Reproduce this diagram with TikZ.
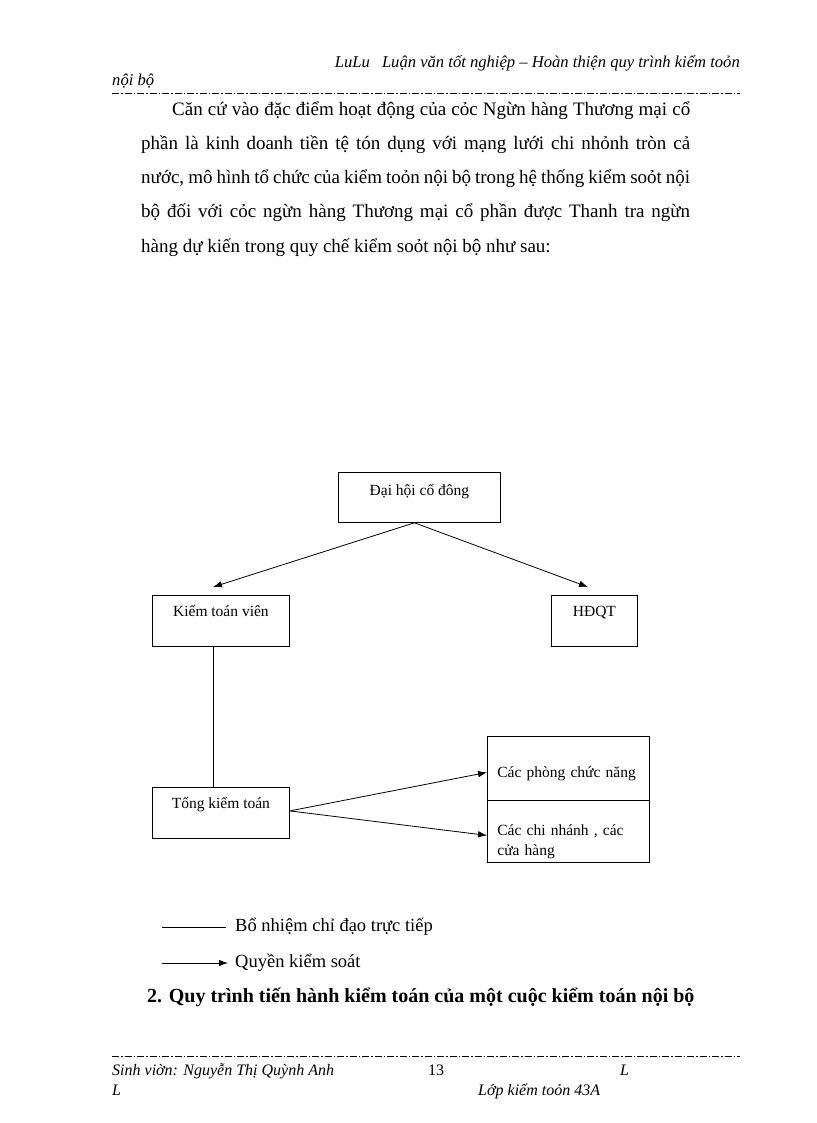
\documentclass[tikz,border=0pt]{standalone}
\usepackage{fontspec}
\setmainfont{Liberation Serif}
\usetikzlibrary{arrows.meta}

\begin{document}
\begin{tikzpicture}[x=1pt,y=-1pt,
    box/.style={draw,line width=0.8pt,inner sep=0pt,font=\fontsize{15.5}{20}\selectfont},
    pline/.style={anchor=base west,inner sep=0pt,font=\fontsize{19}{34}\selectfont},
    hdr/.style={anchor=base west,inner sep=0pt,font=\fontsize{16}{20}\selectfont\itshape},
    dashdot/.style={line width=0.7pt,dash pattern=on 7pt off 2pt on 1.5pt off 2pt},
    ctrl/.style={line width=0.8pt,-{Latex[length=9pt,width=6.5pt]}}]
  \useasboundingbox (0,0) rectangle (816,1123);
  % page header
  \node[hdr,anchor=base east,font=\fontsize{16.6}{20}\selectfont\itshape] (hd1) at (740,68) %
    {LuLu\hspace{12pt}Luận văn tốt nghiệp -- Hoàn thiện quy trình kiểm toỏn};
  \node[hdr,font=\fontsize{16.6}{20}\selectfont\itshape] (hd2) at (112,86) {nội bộ};
  \draw[dashdot] (112,93) -- (740,93);
  % paragraph
  \node[pline] (l1) at (172,116) %
    {\makebox[518pt][s]{Căn cứ vào đặc điểm hoạt động của cỏc Ngừn hàng Thương mại cổ}};
  \node[pline] (l2) at (141,150) %
    {\makebox[549pt][s]{phần là kinh doanh tiền tệ tón dụng với mạng lưới chi nhỏnh tròn cả}};
  \node[pline] (l3) at (141,184) %
    {\makebox[549pt][s]{nước, mô hình tổ chức của kiểm toỏn nội bộ trong hệ thống kiểm soỏt nội}};
  \node[pline] (l4) at (141,218) %
    {\makebox[549pt][s]{bộ đối với cỏc ngừn hàng Thương mại cổ phần được Thanh tra ngừn}};
  \node[pline] (l5) at (141,252) {hàng dự kiến trong quy chế kiểm soỏt nội bộ như sau:};
  % boxes
  \node[box,anchor=north west,minimum width=162pt,text height=23pt,text depth=27pt] %
    (dhcd) at (338,472) {Đại hội cổ đông};
  \node[box,anchor=north west,minimum width=137pt,text height=21pt,text depth=30pt] %
    (ktv) at (152,595) {Kiểm toán viên};
  \node[box,anchor=north west,minimum width=86pt,text height=21pt,text depth=30pt] %
    (hdqt) at (551,595) {HĐQT};
  \node[box,anchor=north west,minimum width=137pt,text height=21pt,text depth=30pt] %
    (tkt) at (152,787) {Tổng kiểm toán};
  \node[box,anchor=north west,text width=142pt,inner xsep=10pt,align=left,%
    text height=41pt,text depth=23pt] (cpcn) at (487,736) {Các phòng chức năng};
  \node[box,anchor=north west,text width=142pt,inner xsep=10pt,align=left,%
    text height=35pt,text depth=27pt] (cnch) at (487,800) {Các chi nhánh , các\\cửa hàng};
  % connectors
  \coordinate (kta) at (213,587);
  \coordinate (hda) at (588,587);
  \draw[ctrl] ([xshift=-5]dhcd.south) -- (kta);
  \draw[ctrl] ([xshift=-5]dhcd.south) -- (hda);
  \draw[line width=0.8pt] ([xshift=61]ktv.south west) -- ([xshift=61]tkt.north west);
  \draw[ctrl] ([yshift=2]tkt.east) -- ([yshift=-4]cpcn.west);
  \draw[ctrl] ([yshift=2]tkt.east) -- ([yshift=-4]cnch.west);
  % legend
  \coordinate (lga) at (162,927);
  \coordinate (lgb) at (162,963);
  \node[anchor=west,inner xsep=9pt,font=\fontsize{18.5}{22}\selectfont] (bn) at (226,927) %
    {Bổ nhiệm chỉ đạo trực tiếp};
  \node[anchor=west,inner xsep=7pt,font=\fontsize{18.5}{22}\selectfont] (qks) at (228,963) %
    {Quyền kiểm soát};
  \draw[line width=0.8pt] (lga) -- (bn.west);
  \draw[ctrl] (lgb) -- (qks.west);
  \node[pline,font=\fontsize{20}{22}\selectfont\bfseries] (qt) at (147,1002) %
    {2. Quy trình tiến hành kiểm toán của một cuộc kiểm toán nội bộ};
  % page footer
  \draw[dashdot] (112,1056) -- (740,1056);
  \node[hdr] (sv) at (112,1075) {Sinh viờn: Nguyễn Thị Quỳnh Anh};
  \node[hdr,font=\fontsize{16}{20}\selectfont] (pg) at (428,1075) {13};
  \node[hdr] (la) at (620,1075) {L};
  \node[hdr] (lb) at (112,1095) {L};
  \node[hdr] (lop) at (478,1095) {Lớp kiểm toỏn 43A};
\end{tikzpicture}
\end{document}
